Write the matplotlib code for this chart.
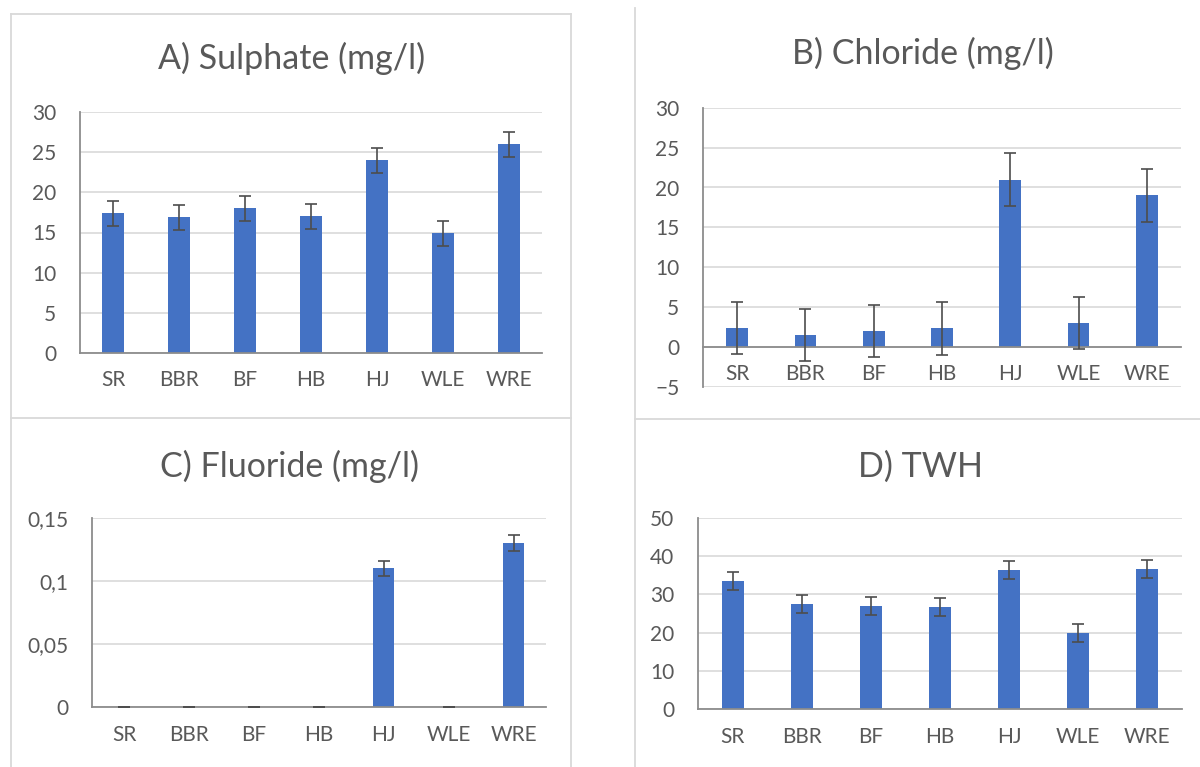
import matplotlib.pyplot as plt
from matplotlib.lines import Line2D
import numpy as np

categories = ['SR', 'BBR', 'BF', 'HB', 'HJ', 'WLE', 'WRE']

sulphate = [17.4, 16.9, 18.0, 17.0, 24.0, 14.9, 26.0]
sulphate_err = [1.55, 1.55, 1.55, 1.55, 1.55, 1.55, 1.55]
sulphate_ticks = [0, 5, 10, 15, 20, 25, 30]

chloride = [2.4, 1.5, 2.0, 2.35, 21.0, 3.0, 19.0]
chloride_err = [3.3, 3.3, 3.3, 3.3, 3.3, 3.3, 3.3]
chloride_ticks = [-5, 0, 5, 10, 15, 20, 25, 30]

fluoride = [0, 0, 0, 0, 0.11, 0, 0.13]
fluoride_err = [0, 0, 0, 0, 0.0058, 0, 0.0066]
fluoride_ticks = [0, 0.05, 0.1, 0.15]
fluoride_ticklabels = ['0', '0,05', '0,1', '0,15']

twh = [33.5, 27.5, 27.0, 26.7, 36.4, 20.0, 36.6]
twh_err = [2.35, 2.35, 2.35, 2.35, 2.35, 2.35, 2.35]
twh_ticks = [0, 10, 20, 30, 40, 50]

W, H = 1200, 767
BAR = '#4472C4'
TEXT = '#595959'
GRID = '#D9D9D9'
AXIS = '#8C8C8C'
ERR = '#4D4D4D'

plt.rcParams['font.family'] = ['Lato', 'DejaVu Sans']

fig = plt.figure(figsize=(W / 100, H / 100), dpi=100)


def add_panel(box, values, errors, ticks, ticklabels=None, zero_axis=False):
    """Bar chart with error bars; box is (left, top, right, bottom) in pixels."""
    left, top, right, bottom = box
    ax = fig.add_axes([left / W, 1 - bottom / H, (right - left) / W, (bottom - top) / H])
    x = np.arange(len(categories))
    ax.bar(x, values, width=0.32, color=BAR, zorder=2)
    ax.errorbar(x, values, yerr=errors, fmt='none', ecolor=ERR,
                elinewidth=1.2, capsize=4.3, capthick=1.2, zorder=3)
    ax.set_xlim(-0.5, len(categories) - 0.5)
    ax.set_ylim(ticks[0], ticks[-1])
    ax.set_yticks(ticks)
    if ticklabels:
        ax.set_yticklabels(ticklabels)
    ax.set_xticks(x)
    ax.set_xticklabels(categories)
    ax.tick_params(axis='both', length=0, labelsize=15, labelcolor=TEXT)
    ax.tick_params(axis='y', pad=17)
    ax.tick_params(axis='x', pad=12.5)
    ax.yaxis.grid(True, color=GRID, lw=1.2)
    ax.set_axisbelow(True)
    for side in ('top', 'right'):
        ax.spines[side].set_visible(False)
    for side in ('left', 'bottom'):
        ax.spines[side].set_color(AXIS)
        ax.spines[side].set_linewidth(1.3)
    if zero_axis:
        ax.spines['bottom'].set_position(('data', 0))
    return ax


def title(x, y, s):
    fig.text(x / W, 1 - y / H, s, ha='center', va='baseline',
             fontsize=24.5, color=TEXT)


def border(x0, y0, x1, y1):
    fig.add_artist(Line2D([x0 / W, x1 / W], [1 - y0 / H, 1 - y1 / H],
                          color=GRID, lw=1.3))


add_panel((80, 112, 542, 353), sulphate, sulphate_err, sulphate_ticks)
add_panel((703, 107.7, 1181, 387), chloride, chloride_err, chloride_ticks, zero_axis=True)
add_panel((92, 517.7, 546, 707.3), fluoride, fluoride_err, fluoride_ticks, fluoride_ticklabels)
add_panel((698, 517.7, 1182, 709.3), twh, twh_err, twh_ticks)

title(291.5, 69, 'A) Sulphate (mg/l)')
title(922.4, 64.3, 'B) Chloride (mg/l)')
title(289.5, 477.3, 'C) Fluoride (mg/l)')
title(920.5, 476.7, 'D) TWH')

# panel frames
border(11, 14, 571, 14)
border(11, 14, 11, 767)
border(571, 14, 571, 767)
border(11, 418, 571, 418)
border(635, 8, 635, 767)
border(635, 419, 1200, 419)

fig.savefig('out.png', dpi=100)
plt.close(fig)
